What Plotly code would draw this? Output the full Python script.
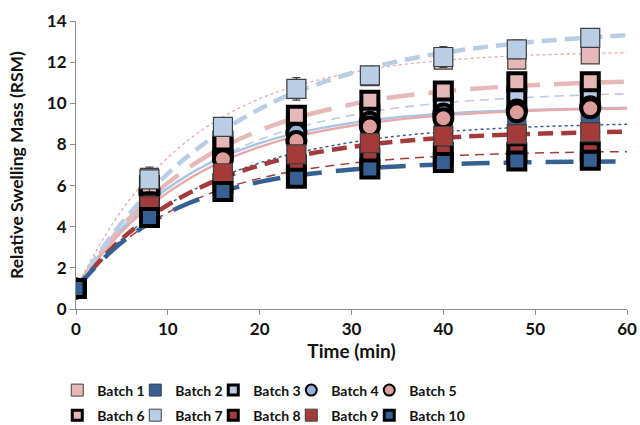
import plotly.graph_objects as go

# ---- data ----
time = [0, 8, 16, 24, 32, 40, 48, 56]
batch_names = ["Batch 1", "Batch 2", "Batch 3", "Batch 4", "Batch 5",
               "Batch 6", "Batch 7", "Batch 8", "Batch 9", "Batch 10"]

b1 = [1, 6.4, 8.8, 10.68, 11.3, 12.1, 12.1, 12.35]
b2 = [1, 4.6, 6.5, 7.7, 8.3, 8.7, 9.03, 9.15]
b3 = [1, 6.0, 7.9, 8.9, 9.5, 9.95, 10.34, 10.39]
b4 = [1, 5.8, 7.6, 8.58, 9.1, 9.5, 9.7, 9.85]
b5 = [1, 5.6, 7.28, 8.17, 8.87, 9.27, 9.56, 9.76]
b6 = [1, 6.0, 8.17, 9.42, 10.15, 10.6, 11.05, 11.05]
b7 = [1, 6.3, 8.85, 10.7, 11.36, 12.25, 12.62, 13.18]
b8 = [1, 5.2, 6.1, 7.0, 7.35, 7.6, 7.6, 7.65]
b9 = [1, 5.0, 6.6, 7.52, 8.06, 8.41, 8.5, 8.6]
b10 = [1, 4.45, 5.71, 6.36, 6.8, 7.12, 7.2, 7.23]
b7_err = [0, 0.6, 0.3, 0.55, 0.35, 0.5, 0.45, 0.35]

# fitted curves at these times
fit_time = [0, 4, 8, 12, 16, 20, 24, 32, 40, 48, 56, 60]
fit1 = [1, 4.16, 6.46, 8.13, 9.34, 10.22, 10.85, 11.66, 12.08, 12.31, 12.42, 12.46]
fit2 = [1, 2.98, 4.47, 5.60, 6.46, 7.10, 7.59, 8.24, 8.61, 8.82, 8.94, 8.98]
fit3 = [1, 3.34, 5.12, 6.45, 7.47, 8.23, 8.81, 9.58, 10.02, 10.26, 10.41, 10.46]
fit4 = [1, 3.42, 5.19, 6.46, 7.39, 8.06, 8.55, 9.17, 9.49, 9.66, 9.75, 9.78]
fit5 = [1, 3.29, 4.99, 6.25, 7.19, 7.88, 8.39, 9.04, 9.41, 9.61, 9.72, 9.75]
fit6 = [1, 3.49, 5.38, 6.79, 7.87, 8.68, 9.30, 10.12, 10.58, 10.84, 11.0, 11.05]
fit7 = [1, 3.63, 5.71, 7.36, 8.68, 9.72, 10.55, 11.72, 12.45, 12.91, 13.2, 13.31]
fit8 = [1, 2.84, 4.17, 5.13, 5.84, 6.35, 6.72, 7.18, 7.43, 7.56, 7.63, 7.65]
fit9 = [1, 3.0, 4.47, 5.57, 6.38, 6.98, 7.43, 8.0, 8.32, 8.49, 8.58, 8.62]
fit10 = [1, 2.87, 4.18, 5.09, 5.73, 6.18, 6.49, 6.85, 7.03, 7.12, 7.16, 7.17]

x_ticks = [0, 10, 20, 30, 40, 50, 60]
y_ticks = [0, 2, 4, 6, 8, 10, 12, 14]

# ---- styles ----
PINK = "#E6B9B8"
PINK2 = "#DE9F9C"
LBLUE = "#B9CDE5"
LBLUE2 = "#95B3D7"
DBLUE = "#376092"
DRED = "#A33B3B"

series = [b1, b2, b3, b4, b5, b6, b7, b8, b9, b10]
fits = [fit1, fit2, fit3, fit4, fit5, fit6, fit7, fit8, fit9, fit10]

thin = dict(width=1.2, color="#404040")
thick = dict(width=4, color="black")
mstyle = [
    dict(symbol="square", color=PINK, size=18, line=thin),
    dict(symbol="square", color=DBLUE, size=18, line=thin),
    dict(symbol="square", color=LBLUE, size=17, line=thick),
    dict(symbol="circle", color=LBLUE2, size=18, line=thick),
    dict(symbol="circle", color=PINK2, size=18, line=thick),
    dict(symbol="square", color=PINK, size=17, line=thick),
    dict(symbol="square", color=LBLUE, size=19, line=thin),
    dict(symbol="square", color=DRED, size=17, line=thick),
    dict(symbol="square", color=DRED, size=19, line=thin),
    dict(symbol="square", color=DBLUE, size=17, line=thick),
]
lthin = dict(width=1, color="#404040")
lthick = dict(width=3, color="black")
leg_style = [
    dict(symbol="square", color=PINK, size=12, line=lthin),
    dict(symbol="square", color=DBLUE, size=12, line=lthin),
    dict(symbol="square", color=LBLUE, size=10, line=lthick),
    dict(symbol="circle", color=LBLUE2, size=11, line=dict(width=2, color="black")),
    dict(symbol="circle", color=PINK2, size=11, line=dict(width=2, color="black")),
    dict(symbol="square", color=PINK, size=10, line=lthick),
    dict(symbol="square", color=LBLUE, size=12, line=lthin),
    dict(symbol="square", color=DRED, size=10, line=lthick),
    dict(symbol="square", color=DRED, size=12, line=lthin),
    dict(symbol="square", color=DBLUE, size=10, line=lthick),
]
lstyle = [
    dict(color="#E8A6A5", width=1.3, dash="3px,3px"),
    dict(color=DBLUE, width=1.5, dash="3px,3px"),
    dict(color=LBLUE, width=1.6, dash="9px,6px"),
    dict(color="#A9C3E3", width=2.4, dash="solid"),
    dict(color="#E6A9A7", width=2.4, dash="solid"),
    dict(color=PINK, width=4.5, dash="28px,14px"),
    dict(color=LBLUE, width=4.5, dash="15px,8px"),
    dict(color=DRED, width=1.5, dash="9px,6px"),
    dict(color=DRED, width=4.5, dash="15px,8px"),
    dict(color=DBLUE, width=4.5, dash="28px,14px"),
]

fig = go.Figure()

for i in range(10):
    fig.add_trace(go.Scatter(
        x=fit_time, y=fits[i], mode="lines", line_shape="spline",
        line=lstyle[i], showlegend=False, hoverinfo="skip"))

for i in range(10):
    kw = {}
    if i == 6:
        kw["error_y"] = dict(type="data", array=b7_err, visible=True,
                             color="#404040", thickness=1.2, width=4)
    fig.add_trace(go.Scatter(
        x=time, y=series[i], mode="markers", name=batch_names[i],
        marker=mstyle[i], showlegend=False, **kw))

# legend-only entries (no data drawn)
for i in range(10):
    fig.add_trace(go.Scatter(
        x=[None], y=[None], mode="markers", name=batch_names[i],
        marker=leg_style[i], legend="legend" if i < 5 else "legend2"))
# invisible spacer entries so the last text of each row is not clipped
for lg in ("legend", "legend2"):
    fig.add_trace(go.Scatter(
        x=[None], y=[None], mode="markers", name=" ",
        marker=dict(size=1, color="rgba(0,0,0,0)",
                    line=dict(width=0, color="rgba(0,0,0,0)")),
        legend=lg, hoverinfo="skip"))

FONT = "Lato"
legend_common = dict(
    orientation="h", xanchor="left", yanchor="middle",
    font=dict(family=FONT, size=14, color="#111", weight="bold"),
    entrywidth=33, entrywidthmode="pixels", itemwidth=30,
    bgcolor="rgba(0,0,0,0)", tracegroupgap=0, itemsizing="trace",
)

fig.update_layout(
    width=640, height=425,
    margin=dict(l=76, r=13, t=21, b=116, autoexpand=False),
    paper_bgcolor="white", plot_bgcolor="white",
    font=dict(family=FONT, color="#111"),
    legend=dict(x=-0.034, y=-0.283, **legend_common),
    legend2=dict(x=-0.034, y=-0.37, **legend_common),
    xaxis=dict(
        range=[0, 60], tickvals=x_ticks, showgrid=False, zeroline=False,
        showline=True, linecolor="#8C8C8C", linewidth=1, automargin=False,
        ticks="outside", tickcolor="#8C8C8C", ticklen=5,
        tickfont=dict(family=FONT, size=17, color="#111", weight="bold"),
        title=dict(text="<b>Time (min)</b>", standoff=0,
                   font=dict(family=FONT, size=19, color="#111")),
    ),
    yaxis=dict(
        range=[0, 14], tickvals=y_ticks, showgrid=False, zeroline=False,
        showline=True, linecolor="#8C8C8C", linewidth=1, automargin=False,
        ticks="outside", tickcolor="#8C8C8C", ticklen=5,
        tickfont=dict(family=FONT, size=17, color="#111", weight="bold"),
        title=dict(text="<b>Relative Swelling Mass (RSM)</b>", standoff=18,
                   font=dict(family=FONT, size=17.5, color="#111")),
    ),
)

fig.write_html("out.html",
               config={"displayModeBar": False},
               post_script="document.body.style.margin='0';"
                           "document.body.style.overflow='hidden';")
